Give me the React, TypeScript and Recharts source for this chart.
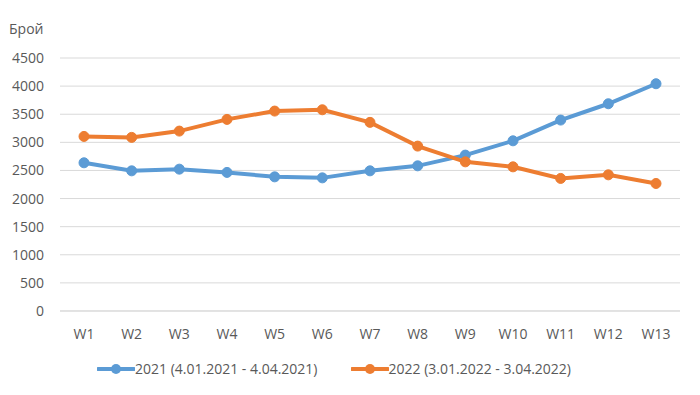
import React from "react";
import {
  LineChart,
  Line,
  XAxis,
  YAxis,
  CartesianGrid,
  Legend,
} from "recharts";

const weeks = ["W1", "W2", "W3", "W4", "W5", "W6", "W7", "W8", "W9", "W10", "W11", "W12", "W13"];
const y2021 = [2636, 2493, 2523, 2465, 2386, 2368, 2493, 2582, 2773, 3027, 3396, 3686, 4042];
const y2022 = [3105, 3088, 3200, 3408, 3556, 3579, 3355, 2933, 2653, 2564, 2358, 2422, 2268];
const yTicks = [0, 500, 1000, 1500, 2000, 2500, 3000, 3500, 4000, 4500];

const name2021 = "2021 (4.01.2021 - 4.04.2021)";
const name2022 = "2022 (3.01.2022 - 3.04.2022)";

const data = weeks.map((w, i) => ({ week: w, a: y2021[i], b: y2022[i] }));

const FONT = "'Open Sans', sans-serif";
const BLUE = "#5B9BD5";
const ORANGE = "#ED7D31";
const TEXT = "#595959";

const LegendContent = (props: any) => {
  const items = props.payload || [];
  return (
    <div
      style={{
        display: "flex",
        justifyContent: "center",
        gap: 33,
        fontFamily: FONT,
        fontSize: 14,
        color: TEXT,
        paddingRight: 12,
      }}
    >
      {items.map((it: any) => (
        <div key={it.value} style={{ display: "flex", alignItems: "center" }}>
          <svg width={38} height={12}>
            <line x1={1} y1={6} x2={37} y2={6} stroke={it.color} strokeWidth={4} strokeLinecap="round" />
            <circle cx={19} cy={6} r={5} fill={it.color} />
          </svg>
          <span>{it.value}</span>
        </div>
      ))}
    </div>
  );
};

const App: React.FC = () => {
  return (
    <div style={{ position: "absolute", left: 0, top: 0, width: 700, height: 395, background: "#fff" }}>
      <div
        style={{
          position: "absolute",
          left: 9,
          top: 19,
          fontFamily: FONT,
          fontSize: 14,
          color: TEXT,
        }}
      >
        Брой
      </div>
      <LineChart
        width={700}
        height={395}
        data={data}
        margin={{ top: 58, right: 20, left: 0, bottom: 20 }}
      >
        <CartesianGrid vertical={false} stroke="#d9d9d9" />
        <XAxis
          dataKey="week"
          axisLine={{ stroke: "#d9d9d9" }}
          tickLine={false}
          tick={{ fill: TEXT, fontSize: 14, fontFamily: FONT }}
          tickMargin={12}
          height={34}
          padding={{ left: 24, right: 24 }}
        />
        <YAxis
          domain={[0, 4500]}
          ticks={yTicks}
          axisLine={false}
          tickLine={false}
          tick={{ fill: TEXT, fontSize: 14, fontFamily: FONT }}
          width={60}
          tickMargin={10}
        />
        <Legend
          verticalAlign="bottom"
          height={30}
          content={<LegendContent />}
          wrapperStyle={{ top: 359 }}
        />
        <Line
          type="linear"
          dataKey="a"
          name={name2021}
          stroke={BLUE}
          strokeWidth={4}
          dot={{ r: 5, fill: BLUE, stroke: BLUE, strokeWidth: 1 }}
          isAnimationActive={false}
        />
        <Line
          type="linear"
          dataKey="b"
          name={name2022}
          stroke={ORANGE}
          strokeWidth={4}
          dot={{ r: 5, fill: ORANGE, stroke: ORANGE, strokeWidth: 1 }}
          isAnimationActive={false}
        />
      </LineChart>
    </div>
  );
};

export default App;
